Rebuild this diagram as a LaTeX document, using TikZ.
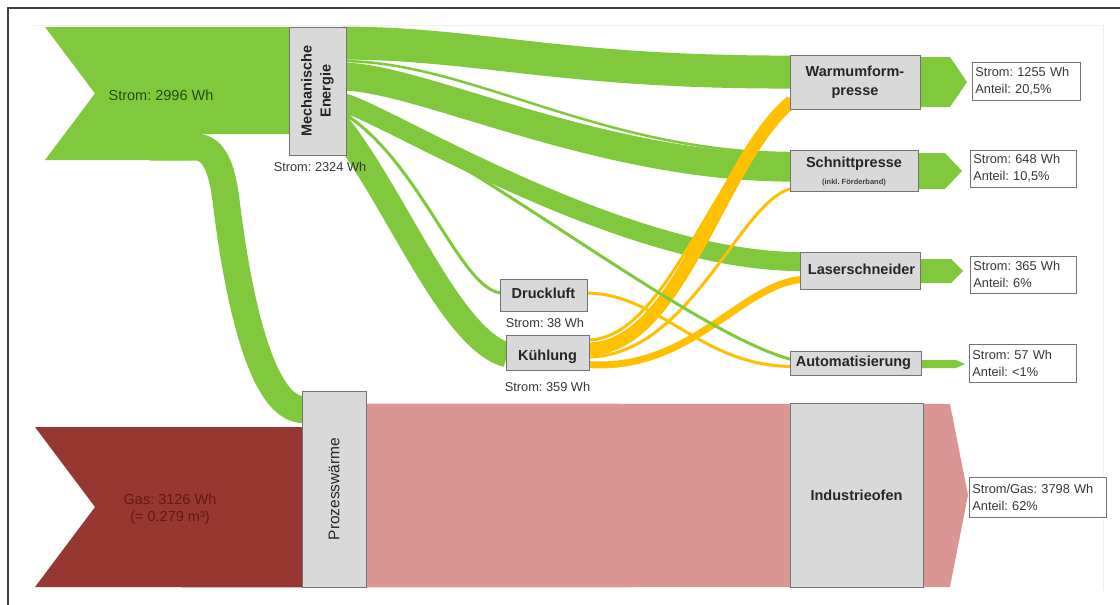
\documentclass[tikz,border=0pt]{standalone}
\usepackage{fontspec}
\setmainfont{Liberation Sans}
\usetikzlibrary{calc,backgrounds}
\frenchspacing

\definecolor{flowgreen}{RGB}{128,200,60}
\definecolor{floworange}{RGB}{255,192,0}
\definecolor{gasred}{RGB}{150,55,50}
\definecolor{heatpink}{RGB}{218,150,146}
\definecolor{boxgray}{RGB}{217,217,217}
\definecolor{boxline}{RGB}{115,115,115}
\definecolor{labeltext}{RGB}{55,55,55}
\definecolor{textgreen}{RGB}{40,75,20}
\definecolor{textred}{RGB}{100,25,20}

\tikzset{
  stage/.style={draw=boxline, fill=boxgray, line width=0.9pt, inner sep=0pt},
  stagetext/.style={font=\fontsize{14.5}{19}\selectfont\bfseries, text=black!85, align=center},
  valuebox/.style={draw=boxline, fill=white, line width=0.8pt, inner xsep=3pt, inner ysep=0pt,
    align=left, anchor=west, font=\fontsize{12.8}{17}\selectfont, text=labeltext},
  valuetext/.style={font=\fontsize{12.8}{15}\selectfont, text=labeltext},
  gflow/.style={draw=flowgreen, line cap=butt, line join=round},
  oflow/.style={draw=floworange, line cap=butt, line join=round},
}

\begin{document}
\begin{tikzpicture}[x=1pt,y=-1pt]
\useasboundingbox (0,0) rectangle (1120,605);

% ---------- stages ----------
\node[stage, minimum width=57, minimum height=128] (mech) at (317.5,91) {};
\node[stage, minimum width=64, minimum height=196] (proz) at (334,489) {};
\node[stage, minimum width=130, minimum height=54] (warm) at (855,82) {};
\node[stage, minimum width=128, minimum height=41] (schnitt) at (854,170.5) {};
\node[stage, minimum width=120, minimum height=37] (laser) at (860,270.5) {};
\node[stage, minimum width=131, minimum height=24] (auto) at (855.5,363) {};
\node[stage, minimum width=87, minimum height=32] (druck) at (543.5,295) {};
\node[stage, minimum width=83, minimum height=35] (kuehl) at (547.5,352.5) {};
\node[stage, minimum width=133, minimum height=184] (ofen) at (856.5,495) {};

% ---------- flows, behind the stages ----------
\begin{scope}[on background layer]
  \fill[white] (0,0) rectangle (1120,605);
  \draw[black!6, line width=0.6pt] (33,25) -- (1103,25) -- (1103,590);
  \draw[black!75, line width=1.4pt] (8,605) -- (8,8) -- (1120,8);

  % electricity input and its branch to process heat
  \fill[flowgreen] (45,27) -- (292,27) -- (292,134) -- (190,134) -- (190,160) -- (45,160) -- (95,93.5) -- cycle;
  \draw[gflow, line width=27] (150,147) -- (195,147)
     .. controls (215,147) and (222,170) .. (226,200)
     .. controls (238,300) and (262,410) .. ($(proz.north west)+(2,19)$);

  % gas input
  \fill[gasred] (35,427) -- ($(proz.west)+(2,-62)$) -- ($(proz.south west)+(2,0)$) -- (35,587) -- (95,507) -- cycle;

  % process heat to furnace and beyond
  \fill[heatpink] ($(proz.north east)+(-2,13)$) -- (950,404) -- (968,495) -- (950,587) -- ($(proz.south east)+(-2,0)$) -- cycle;

  % mechanical energy to the consumers
  \draw[gflow, line width=33] ($(mech.north east)+(-4,16.5)$) .. controls (480,43.5) and (560,72.5) .. ($(warm.north west)+(2,17.5)$);
  \draw[gflow, line width=2.5] ($(mech.north east)+(-4,34.5)$) .. controls (470,61.5) and (600,152) .. ($(schnitt.north west)+(2,3.5)$);
  \draw[gflow, line width=28] ($(mech.north east)+(-4,50)$) .. controls (420,77) and (600,168) .. ($(schnitt.north west)+(2,18)$);
  \draw[gflow, line width=19] ($(mech.north east)+(-4,76)$) .. controls (380,110) and (620,262) .. ($(laser.north west)+(2,10)$);
  \draw[gflow, line width=3] ($(mech.north east)+(-4,86)$) .. controls (420,160) and (460,290) .. ($(druck.west)+(2,-2)$);
  \draw[gflow, line width=25] ($(mech.north east)+(-11,95)$) .. controls (395,195) and (450,340) .. ($(kuehl.west)+(2,2.5)$);

  % cooling and compressed air to the machines
  \draw[oflow, line width=3] ($(kuehl.east)+(-2,-12.5)$) .. controls (665,340) and (712,172) .. ($(warm.south west)+(2,-12)$);
  \draw[oflow, line width=13] ($(kuehl.east)+(-2,-3.5)$) .. controls (680,350) and (720,160) .. ($(warm.south west)+(2,-8)$);
  \draw[oflow, line width=3] ($(kuehl.east)+(-2,4.5)$) .. controls (690,357) and (740,200) .. ($(schnitt.south west)+(2,-3)$);
  \draw[oflow, line width=7] ($(kuehl.east)+(-2,12)$) .. controls (690,372) and (740,285) .. ($(laser.south west)+(2,-10)$);
  \draw[oflow, line width=3] ($(druck.east)+(-2,-2)$) .. controls (660,293) and (700,366) .. ($(auto.south west)+(2,-9)$);

  \draw[gflow, line width=3] ($(mech.north east)+(-4,87)$) .. controls (420,114) and (680,330) .. ($(auto.north west)+(2,9)$);

  % outgoing arrows
  \fill[flowgreen] ($(warm.east)+(-2,-25)$) -- (950,57) -- (967,82) -- (950,107) -- ($(warm.east)+(-2,25)$) -- cycle;
  \fill[flowgreen] ($(schnitt.east)+(-2,-17.5)$) -- (945,153) -- (962,171) -- (945,189) -- ($(schnitt.east)+(-2,18.5)$) -- cycle;
  \fill[flowgreen] ($(laser.east)+(-2,-11.5)$) -- (951,259) -- (963,271) -- (951,283) -- ($(laser.east)+(-2,12.5)$) -- cycle;
  \fill[flowgreen] ($(auto.east)+(-2,-3)$) -- (956,360) -- (965,364) -- (956,368) -- ($(auto.east)+(-2,5)$) -- cycle;
\end{scope}

% ---------- stage texts ----------
\node[stagetext, rotate=90] (mechtext) at (mech.center) {Mechanische\\Energie};
\node[font=\fontsize{15.5}{18}\selectfont, text=black!85, rotate=90] (proztext) at (proz.center) {Prozesswärme};
\node[stagetext] (warmtext) at ([yshift=-0.5]warm.center) {Warmumform-\\presse};
\node[stagetext] (schnitttext) at ([yshift=7]schnitt.center) {Schnittpresse};
\node[font=\fontsize{7.5}{9}\selectfont\bfseries, text=black!75] (schnittsub) at ([yshift=-12.5]schnitt.center) {(inkl. Förderband)};
\node[stagetext] (lasertext) at ([xshift=1.5,yshift=1.5]laser.center) {Laserschneider};
\node[stagetext] (autotext) at ([xshift=-2]auto.center) {Automatisierung};
\node[stagetext] (drucktext) at ([yshift=2]druck.center) {Druckluft};
\node[stagetext] (kuehltext) at ([yshift=-4]kuehl.center) {Kühlung};
\node[stagetext] (ofentext) at (ofen.center) {Industrieofen};

% ---------- input and intermediate values ----------
\node[font=\fontsize{14.5}{17}\selectfont, text=textgreen] (instrom) at (161,95) {Strom: 2996 Wh};
\node[font=\fontsize{14.5}{17}\selectfont, text=textred, align=center] (ingas) at (170,509) {Gas: 3126 Wh\\(= 0.279 m³)};
\node[valuetext] (mechval) at ([xshift=2.5,yshift=-11]mech.south) {Strom: 2324 Wh};
\node[valuetext] (druckval) at ([xshift=1.5,yshift=-11]druck.south) {Strom: 38 Wh};
\node[valuetext] (kuehlval) at ([yshift=-16.5]kuehl.south) {Strom: 359 Wh};

% ---------- output values ----------
\node[valuebox, minimum height=38, text width=102] (warmval) at (972,81) {Strom: 1255 Wh\\Anteil: 20,5\%};
\node[valuebox, minimum height=37, text width=100] (schnittval) at (970,168.5) {Strom: 648 Wh\\Anteil: 10,5\%};
\node[valuebox, minimum height=37, text width=100] (laserval) at (970,274.5) {Strom: 365 Wh\\Anteil: 6\%};
\node[valuebox, minimum height=38, text width=101] (autoval) at (969,363) {Strom: 57 Wh\\Anteil: <1\%};
\node[valuebox, minimum height=40, text width=131] (ofenval) at (969,497) {Strom/Gas: 3798 Wh\\Anteil: 62\%};
\end{tikzpicture}
\end{document}
